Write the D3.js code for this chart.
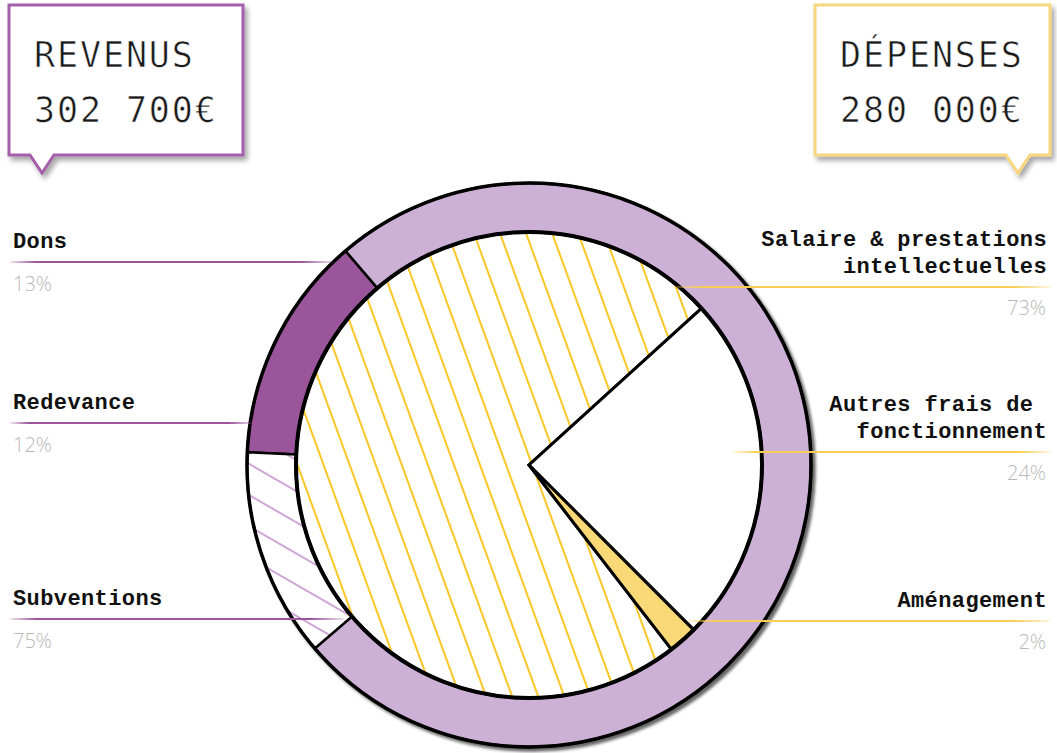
<!DOCTYPE html>
<html>
<head>
<meta charset="utf-8">
<script src="https://cdn.jsdelivr.net/npm/d3@7"></script>
<style>
  body { margin: 0; background: #fff; }
  text { white-space: pre; }
</style>
</head>
<body>
<div id="chart"></div>
<script>
// data
var revenusLabels = ["Dons", "Redevance", "Subventions"];
var revenusValues = [13, 12, 75];
var depensesLabels = [["Salaire & prestations", "intellectuelles"], ["Autres frais de ", "fonctionnement"], ["Aménagement"]];
var depensesValues = [73, 24, 2];
var totals = [["REVENUS", "302 700€"], ["DÉPENSES", "280 000€"]];

// layout
var width = 1057, height = 753;
var cx = 529, cy = 465;
var outerR = 282, ringR = 233;
var ringStart = 319.4, pieStart = 142.3;   // degrees, clockwise from north
var leftLineY = [262, 423, 619], leftReach = [282, 279, 241];
var rightLineY = [287, 452, 621], rightReach = [229, 204, 222];

var purple = "#9b559b", lilac = "#cdb0d5", yellow = "#f9c623", sand = "#f8d877";

var svg = d3.select("#chart").append("svg")
  .attr("width", width)
  .attr("height", height);

var defs = svg.append("defs");

var shadow = defs.append("filter").attr("id", "shadow")
  .attr("x", "-10%").attr("y", "-10%").attr("width", "120%").attr("height", "120%");
shadow.append("feDropShadow")
  .attr("dx", 3).attr("dy", 3).attr("stdDeviation", 1.8)
  .attr("flood-color", "#000").attr("flood-opacity", 0.6);

var boxShadow = defs.append("filter").attr("id", "boxShadow")
  .attr("x", "-10%").attr("y", "-10%").attr("width", "120%").attr("height", "130%");
boxShadow.append("feDropShadow")
  .attr("dx", 3).attr("dy", 4).attr("stdDeviation", 2.5)
  .attr("flood-color", "#000").attr("flood-opacity", 0.35);

// hatches
var hatchY = defs.append("pattern").attr("id", "hatchYellow")
  .attr("patternUnits", "userSpaceOnUse")
  .attr("width", 24.5).attr("height", 24.5)
  .attr("patternTransform", "rotate(-20)");
hatchY.append("rect").attr("width", 24.5).attr("height", 24.5).attr("fill", "#fff");
hatchY.append("line").attr("x1", 3).attr("x2", 3).attr("y1", 0).attr("y2", 24.5)
  .attr("stroke", yellow).attr("stroke-width", 2);

var hatchP = defs.append("pattern").attr("id", "hatchPurple")
  .attr("patternUnits", "userSpaceOnUse")
  .attr("width", 27).attr("height", 27)
  .attr("patternTransform", "rotate(30)");
hatchP.append("rect").attr("width", 27).attr("height", 27).attr("fill", "#fff");
hatchP.append("line").attr("x1", 0).attr("x2", 27).attr("y1", 4).attr("y2", 4)
  .attr("stroke", "#cfa6d6").attr("stroke-width", 2);

// fading leader lines
function fade(id, color) {
  var g = defs.append("linearGradient").attr("id", id);
  [[0, 0.15], [0.08, 1], [0.9, 1], [1, 0.2]].forEach(function(s){
    g.append("stop").attr("offset", s[0]).attr("stop-color", color).attr("stop-opacity", s[1]);
  });
}
fade("fadePurple", purple);
fade("fadeYellow", "#f7cd55");

var rad = Math.PI / 180;

// RING (revenus)
var ringPie = d3.pie().sort(null)
  .startAngle(ringStart * rad)
  .endAngle((ringStart - 360) * rad);
var ringArc = d3.arc().innerRadius(ringR).outerRadius(outerR);
var ringFills = [purple, "url(#hatchPurple)", lilac];

var chart = svg.append("g")
  .attr("transform", "translate(" + cx + "," + cy + ")")
  .attr("filter", "url(#shadow)");

chart.selectAll("path.ring")
  .data(ringPie(revenusValues)).enter()
  .append("path")
  .attr("class", "ring")
  .attr("d", ringArc)
  .attr("fill", function(d, i){ return ringFills[i]; })
  .attr("stroke", "#000")
  .attr("stroke-width", 2.5);

chart.append("circle")
  .attr("r", outerR)
  .attr("fill", "none")
  .attr("stroke", "#000")
  .attr("stroke-width", 3.5);

// PIE (dépenses)
var innerPie = d3.pie().sort(null)
  .startAngle(pieStart * rad)
  .endAngle((pieStart + 360) * rad);
var pieArc = d3.arc().innerRadius(0).outerRadius(ringR);
var pieFills = ["url(#hatchYellow)", "#fff", sand];

chart.selectAll("path.slice")
  .data(innerPie(depensesValues)).enter()
  .append("path")
  .attr("class", "slice")
  .attr("d", pieArc)
  .attr("fill", function(d, i){ return pieFills[i]; })
  .attr("stroke", "#000")
  .attr("stroke-width", 3)
  .attr("stroke-linejoin", "miter");

chart.append("circle")
  .attr("r", ringR)
  .attr("fill", "none")
  .attr("stroke", "#000")
  .attr("stroke-width", 4);

// LEFT LEGEND
var labelFont = "'Liberation Mono', 'DejaVu Sans Mono', monospace";
var titleFont = "'DejaVu Sans Mono', 'Liberation Mono', monospace";
var pctFont = "'Open Sans', 'Lato', sans-serif";

var left = svg.append("g");
left.selectAll("line")
  .data(revenusLabels).enter()
  .append("line")
  .attr("x1", 10)
  .attr("x2", function(d, i){
    var dy = leftLineY[i] - cy;
    return cx - Math.sqrt(leftReach[i] * leftReach[i] - dy * dy);
  })
  .attr("y1", function(d, i){ return leftLineY[i]; })
  .attr("y2", function(d, i){ return leftLineY[i] + 0.01; })
  .attr("stroke", "url(#fadePurple)")
  .attr("stroke-width", 2);

left.selectAll("text.name")
  .data(revenusLabels).enter()
  .append("text")
  .attr("class", "name")
  .text(function(d){ return d; })
  .attr("x", 13)
  .attr("y", function(d, i){ return leftLineY[i] - 14; })
  .attr("font-family", labelFont)
  .attr("font-weight", "bold")
  .attr("font-size", "22px")
  .attr("letter-spacing", "0.4px")
  .attr("fill", "#111");

left.selectAll("text.pct")
  .data(revenusValues).enter()
  .append("text")
  .attr("class", "pct")
  .text(function(d){ return d + "%"; })
  .attr("x", 13)
  .attr("y", function(d, i){ return leftLineY[i] + 29; })
  .attr("font-family", pctFont)
  .attr("font-weight", 300)
  .attr("font-size", "20px")
  .attr("fill", "#b9b9b9");

// RIGHT LEGEND
var right = svg.append("g");
right.selectAll("line")
  .data(depensesLabels).enter()
  .append("line")
  .attr("x1", function(d, i){
    var dy = rightLineY[i] - cy;
    return cx + Math.sqrt(rightReach[i] * rightReach[i] - dy * dy);
  })
  .attr("x2", 1050)
  .attr("y1", function(d, i){ return rightLineY[i]; })
  .attr("y2", function(d, i){ return rightLineY[i] + 0.01; })
  .attr("stroke", "url(#fadeYellow)")
  .attr("stroke-width", 2);

right.selectAll("text.name")
  .data(depensesLabels).enter()
  .append("text")
  .attr("class", "name")
  .attr("text-anchor", "end")
  .attr("font-family", labelFont)
  .attr("font-weight", "bold")
  .attr("font-size", "22px")
  .attr("letter-spacing", "0.4px")
  .attr("fill", "#111")
  .each(function(d, i){
    var t = d3.select(this);
    d.forEach(function(line, j){
      t.append("tspan")
        .attr("x", 1047)
        .attr("y", rightLineY[i] - 14 - (d.length - 1 - j) * 27)
        .text(line);
    });
  });

right.selectAll("text.pct")
  .data(depensesValues).enter()
  .append("text")
  .attr("class", "pct")
  .text(function(d){ return d + "%"; })
  .attr("text-anchor", "end")
  .attr("x", 1046)
  .attr("y", function(d, i){ return rightLineY[i] + 28; })
  .attr("font-family", pctFont)
  .attr("font-weight", 300)
  .attr("font-size", "20px")
  .attr("fill", "#b9b9b9");

// TOTAL BOXES
var boxes = [
  {x: 9, w: 234, tip: 42, color: "#a45fab"},
  {x: 815, w: 235, tip: 1018, color: "#f6d77f"}
];
var boxTop = 5, boxBottom = 155, tipY = 173, tipHalf = 12;

var boxG = svg.selectAll("g.box")
  .data(boxes).enter()
  .append("g")
  .attr("class", "box");

boxG.append("path")
  .attr("d", function(b){
    return "M" + b.x + "," + boxTop + "H" + (b.x + b.w) + "V" + boxBottom +
      "H" + (b.tip + tipHalf) + "L" + b.tip + "," + tipY +
      "L" + (b.tip - tipHalf) + "," + boxBottom + "H" + b.x + "Z";
  })
  .attr("fill", "#fff")
  .attr("stroke", function(b){ return b.color; })
  .attr("stroke-width", 3)
  .attr("filter", "url(#boxShadow)");

// titles: thinned with a white stroke drawn over the fill
boxG.selectAll("text")
  .data(function(b, i){ return totals[i].map(function(t){ return {t: t, x: b.x}; }); })
  .enter()
  .append("text")
  .text(function(d){ return d.t; })
  .attr("x", function(d){ return d.x + 25; })
  .attr("y", function(d, j){ return 67 + j * 55; })
  .attr("font-family", titleFont)
  .attr("font-size", "35px")
  .attr("letter-spacing", "1.9px")
  .attr("fill", "#1a1a1a")
  .attr("stroke", "#fff")
  .attr("stroke-width", 0.6);
</script>
</body>
</html>
